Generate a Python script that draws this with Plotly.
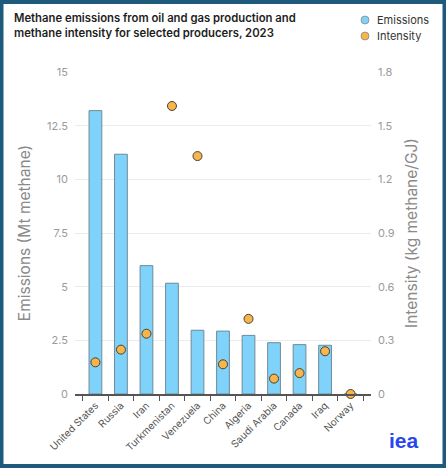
import plotly.graph_objects as go

countries = ['United States', 'Russia', 'Iran', 'Turkmenistan', 'Venezuela', 'China',
             'Algeria', 'Saudi Arabia', 'Canada', 'Iraq', 'Norway']
emissions = [13.2, 11.17, 5.98, 5.16, 2.97, 2.93, 2.73, 2.39, 2.30, 2.27, 0]
intensity = [0.177, 0.248, 0.337, 1.61, 1.33, 0.166, 0.42, 0.086, 0.117, 0.239, 0.0]

W, H = 446, 468
L, R, T, B = 75, 75, 72, 74
pw, ph = W - L - R, H - T - B


def px_x(x):
    return (x - L) / pw


def px_y(y):
    return (H - B - y) / ph


fig = go.Figure()

fig.add_trace(go.Bar(
    x=countries, y=emissions, name='Emissions',
    marker=dict(color='#7fd3fb', line=dict(color='#6f8a98', width=1)),
    width=0.5, showlegend=False,
))

fig.add_trace(go.Scatter(
    x=countries, y=intensity, name='Intensity', yaxis='y2', mode='markers',
    marker=dict(color='#f7b54c', size=9, line=dict(color='#4a4030', width=1)),
    showlegend=False, cliponaxis=False,
))

# legend dots + labels
shapes = []
annotations = []
for i, (lab, col) in enumerate([('Emissions', '#7fd3fb'), ('Intensity', '#f7b54c')]):
    yy = 20 + i * 16
    shapes.append(dict(
        type='circle', xref='paper', yref='paper', xsizemode='pixel', ysizemode='pixel',
        xanchor=px_x(365), yanchor=px_y(yy), x0=-4, x1=4, y0=-4, y1=4,
        fillcolor=col, line=dict(color='#8a8a8a', width=0.8),
    ))
    annotations.append(dict(
        text=lab, xref='paper', yref='paper', x=px_x(375), y=px_y(yy),
        xanchor='left', yanchor='middle', showarrow=False,
        font=dict(family='Inter', size=11, color='#333333'),
    ))

# frame, as four filled strips
for x0, x1, y0, y1 in [(0, W, 0, 4), (0, W, H - 4, H), (0, 3.5, 0, H), (W - 3.5, W, 0, H)]:
    shapes.append(dict(
        type='rect', xref='paper', yref='paper',
        x0=px_x(x0), x1=px_x(x1), y0=px_y(y1), y1=px_y(y0),
        line=dict(width=0), fillcolor='#1d5a7c', layer='above',
    ))

annotations.append(dict(
    text='Methane emissions from oil and gas production and<br>methane intensity for selected producers, 2023',
    xref='paper', yref='paper', x=px_x(12), y=px_y(9), xanchor='left', yanchor='top',
    align='left', showarrow=False,
    font=dict(family='Inter', size=11.3, color='#1e1e1e', weight=600),
))

annotations.append(dict(
    text='<b>iea</b>', xref='paper', yref='paper', x=px_x(404), y=px_y(440),
    xanchor='center', yanchor='middle', showarrow=False,
    font=dict(family='Liberation Sans', size=21, color='#2846f0'),
))

fig.update_layout(
    width=W, height=H,
    margin=dict(l=L, r=R, t=T, b=B),
    paper_bgcolor='white', plot_bgcolor='white',
    font=dict(family='Inter'),
    shapes=shapes, annotations=annotations,
    xaxis=dict(
        tickangle=-45, tickson='boundaries', ticks='outside', ticklen=5,
        tickcolor='#555555', showline=True, linecolor='#555555', linewidth=1.5,
        tickfont=dict(size=10, color='#555555'), showgrid=False,
    ),
    yaxis=dict(
        range=[0, 15], dtick=2.5, showgrid=True, gridcolor='#ececec', zeroline=False,
        tickfont=dict(size=11, color='#9a9a9a'), ticklabelstandoff=6,
        title=dict(text='Emissions (Mt methane)', font=dict(size=15.5, color='#8a8a8a'), standoff=12),
    ),
    yaxis2=dict(
        range=[0, 1.8], dtick=0.3, overlaying='y', side='right', showgrid=False, zeroline=False,
        tickfont=dict(size=11, color='#9a9a9a'), ticklabelstandoff=6,
        title=dict(text='Intensity (kg methane/GJ)', font=dict(size=15.5, color='#8a8a8a'), standoff=12),
    ),
)

fig.write_html(
    'out.html',
    config={'displayModeBar': False},
    post_script="document.body.style.margin='0';document.body.style.overflow='hidden';",
)
